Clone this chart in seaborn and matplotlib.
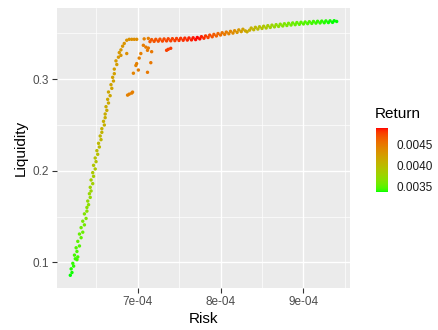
import numpy as np
import matplotlib
matplotlib.use("Agg")
import matplotlib.pyplot as plt
from matplotlib.colors import ListedColormap, Normalize
from matplotlib.cm import ScalarMappable
from matplotlib.ticker import FixedLocator
import seaborn as sns

# ---- data -------------------------------------------------------------
# steep lower branch of the frontier
branch_risk = [6.19e-4, 6.21e-4, 6.20e-4, 6.23e-4, 6.22e-4, 6.27e-4, 6.28e-4, 6.25e-4,
               6.24e-4, 6.27e-4, 6.26e-4, 6.30e-4, 6.28e-4, 6.32e-4, 6.30e-4, 6.34e-4,
               6.32e-4, 6.36e-4, 6.34e-4, 6.38e-4, 6.36e-4, 6.39e-4, 6.39e-4, 6.41e-4,
               6.40e-4, 6.43e-4, 6.42e-4, 6.44e-4, 6.43e-4, 6.46e-4, 6.44e-4, 6.47e-4,
               6.46e-4, 6.49e-4, 6.47e-4, 6.50e-4, 6.49e-4, 6.52e-4, 6.51e-4, 6.54e-4,
               6.53e-4, 6.56e-4, 6.55e-4, 6.57e-4, 6.57e-4, 6.60e-4, 6.59e-4, 6.61e-4,
               6.61e-4, 6.63e-4, 6.62e-4, 6.65e-4, 6.64e-4, 6.67e-4, 6.65e-4, 6.69e-4,
               6.68e-4, 6.71e-4, 6.70e-4, 6.72e-4, 6.72e-4, 6.75e-4, 6.74e-4, 6.77e-4,
               6.78e-4, 6.80e-4, 6.82e-4, 6.84e-4, 6.87e-4, 6.90e-4, 6.93e-4, 6.96e-4,
               6.99e-4]
branch_liq = [0.086, 0.089, 0.093, 0.096, 0.099, 0.103, 0.106, 0.104,
              0.108, 0.112, 0.116, 0.118, 0.123, 0.127, 0.131, 0.133,
              0.138, 0.141, 0.145, 0.148, 0.153, 0.156, 0.160, 0.163,
              0.167, 0.171, 0.175, 0.178, 0.182, 0.186, 0.190, 0.194,
              0.198, 0.202, 0.206, 0.210, 0.214, 0.218, 0.222, 0.226,
              0.230, 0.234, 0.238, 0.242, 0.246, 0.250, 0.254, 0.258,
              0.262, 0.266, 0.270, 0.274, 0.278, 0.282, 0.286, 0.290,
              0.294, 0.298, 0.302, 0.306, 0.311, 0.316, 0.320, 0.324,
              0.329, 0.332, 0.336, 0.339, 0.3425, 0.3435, 0.3435, 0.3435,
              0.3435]
branch_ret = [0.00338, 0.00339, 0.00340, 0.00341, 0.00342, 0.00344, 0.00345, 0.00343,
              0.00345, 0.00346, 0.00348, 0.00349, 0.00351, 0.00352, 0.00354, 0.00355,
              0.00357, 0.00359, 0.00360, 0.00362, 0.00364, 0.00366, 0.00368, 0.00370,
              0.00372, 0.00374, 0.00376, 0.00378, 0.00380, 0.00382, 0.00384, 0.00386,
              0.00388, 0.00390, 0.00392, 0.00394, 0.00396, 0.00398, 0.00400, 0.00401,
              0.00403, 0.00404, 0.00406, 0.00407, 0.00409, 0.00410, 0.00411, 0.00412,
              0.00413, 0.00414, 0.00415, 0.00416, 0.00417, 0.00418, 0.00419, 0.00420,
              0.00421, 0.00422, 0.00423, 0.00424, 0.00425, 0.00426, 0.00427, 0.00428,
              0.00429, 0.00430, 0.00431, 0.00432, 0.00433, 0.00434, 0.00435, 0.00436,
              0.00437]

# scattered portfolios around the knee
cloud_risk = [6.80e-4, 6.87e-4, 7.08e-4, 7.13e-4, 7.07e-4, 7.10e-4, 7.13e-4, 7.12e-4,
              7.17e-4, 7.04e-4, 7.02e-4, 6.99e-4, 6.98e-4, 6.95e-4, 7.01e-4, 7.16e-4,
              7.12e-4, 6.88e-4, 6.90e-4, 6.93e-4, 6.94e-4, 7.35e-4, 7.37e-4, 7.40e-4]
cloud_liq = [0.326, 0.328, 0.3440, 0.3445, 0.337, 0.335, 0.334, 0.3315,
             0.330, 0.328, 0.323, 0.317, 0.315, 0.3065, 0.310, 0.318,
             0.3075, 0.2826, 0.2837, 0.2848, 0.2859, 0.3315, 0.3326, 0.3337]
cloud_ret = [0.00432, 0.00436, 0.00446, 0.00447, 0.00448, 0.00449, 0.00450, 0.00450,
             0.00452, 0.00447, 0.00446, 0.00446, 0.00445, 0.00444, 0.00447, 0.00452,
             0.00451, 0.00446, 0.00446, 0.00447, 0.00447, 0.00478, 0.00479, 0.00480]

# upper, flat part of the frontier
plateau_risk = [7.15e-4, 7.17e-4, 7.20e-4, 7.22e-4, 7.25e-4, 7.27e-4, 7.30e-4, 7.32e-4,
                7.35e-4, 7.37e-4, 7.40e-4, 7.42e-4, 7.45e-4, 7.47e-4, 7.50e-4, 7.52e-4,
                7.55e-4, 7.57e-4, 7.60e-4, 7.62e-4, 7.65e-4, 7.67e-4, 7.70e-4, 7.72e-4,
                7.75e-4, 7.77e-4, 7.80e-4, 7.82e-4, 7.85e-4, 7.87e-4, 7.90e-4, 7.92e-4,
                7.95e-4, 7.97e-4, 8.00e-4, 8.02e-4, 8.05e-4, 8.07e-4, 8.10e-4, 8.12e-4,
                8.15e-4, 8.17e-4, 8.20e-4, 8.22e-4, 8.25e-4, 8.27e-4, 8.30e-4, 8.32e-4,
                8.35e-4, 8.37e-4, 8.40e-4, 8.42e-4, 8.45e-4, 8.47e-4, 8.50e-4, 8.52e-4,
                8.55e-4, 8.57e-4, 8.60e-4, 8.62e-4, 8.65e-4, 8.67e-4, 8.70e-4, 8.72e-4,
                8.75e-4, 8.77e-4, 8.80e-4, 8.82e-4, 8.85e-4, 8.87e-4, 8.90e-4, 8.92e-4,
                8.95e-4, 8.97e-4, 9.00e-4, 9.02e-4, 9.05e-4, 9.07e-4, 9.10e-4, 9.12e-4,
                9.15e-4, 9.17e-4, 9.20e-4, 9.22e-4, 9.25e-4, 9.27e-4, 9.30e-4, 9.32e-4,
                9.35e-4, 9.37e-4, 9.40e-4]
plateau_liq = [0.3410, 0.3432, 0.3413, 0.3435, 0.3415, 0.3437, 0.3416, 0.3439,
               0.3418, 0.3441, 0.3419, 0.3442, 0.3421, 0.3444, 0.3423, 0.3446,
               0.3425, 0.3448, 0.3427, 0.3450, 0.3429, 0.3452, 0.3432, 0.3455,
               0.3440, 0.3464, 0.3447, 0.3472, 0.3455, 0.3481, 0.3463, 0.3489,
               0.3472, 0.3498, 0.3482, 0.3507, 0.3489, 0.3514, 0.3496, 0.3522,
               0.3503, 0.3529, 0.3511, 0.3538, 0.3519, 0.3545, 0.3527, 0.3517,
               0.3535, 0.3558, 0.3540, 0.3566, 0.3547, 0.3572, 0.3554, 0.3578,
               0.3559, 0.3584, 0.3565, 0.3590, 0.3571, 0.3595, 0.3576, 0.3600,
               0.3581, 0.3605, 0.3586, 0.3610, 0.3591, 0.3614, 0.3595, 0.3618,
               0.3599, 0.3621, 0.3603, 0.3624, 0.3606, 0.3627, 0.3609, 0.3630,
               0.3612, 0.3632, 0.3614, 0.3634, 0.3616, 0.3636, 0.3618, 0.3637,
               0.3620, 0.3638, 0.3630]
plateau_ret = [0.00468, 0.00469, 0.00470, 0.00471, 0.00472, 0.00473, 0.00474, 0.00475,
               0.00476, 0.00477, 0.00478, 0.00478, 0.00479, 0.00480, 0.00481, 0.00482,
               0.00483, 0.00484, 0.00485, 0.00486, 0.00487, 0.00488, 0.00489, 0.00490,
               0.00489, 0.00487, 0.00484, 0.00481, 0.00478, 0.00475, 0.00471, 0.00468,
               0.00464, 0.00461, 0.00457, 0.00454, 0.00451, 0.00448, 0.00445, 0.00442,
               0.00439, 0.00436, 0.00432, 0.00429, 0.00425, 0.00422, 0.00418, 0.00415,
               0.00412, 0.00409, 0.00405, 0.00403, 0.00400, 0.00397, 0.00394, 0.00391,
               0.00388, 0.00385, 0.00381, 0.00378, 0.00375, 0.00372, 0.00369, 0.00367,
               0.00365, 0.00363, 0.00361, 0.00359, 0.00357, 0.00356, 0.00354, 0.00353,
               0.00351, 0.00350, 0.00349, 0.00348, 0.00347, 0.00346, 0.00345, 0.00344,
               0.00343, 0.00342, 0.00342, 0.00341, 0.00340, 0.00340, 0.00339, 0.00339,
               0.00338, 0.00338, 0.00338]

x_ticks = [7e-4, 8e-4, 9e-4]
x_tick_labels = ["7e-04", "8e-04", "9e-04"]
y_ticks = [0.1, 0.2, 0.3]
y_tick_labels = ["0.1", "0.2", "0.3"]
ret_ticks = [0.0035, 0.0040, 0.0045]
ret_tick_labels = ["0.0035", "0.0040", "0.0045"]

risk = np.array(branch_risk + cloud_risk + plateau_risk)
liquidity = np.array(branch_liq + cloud_liq + plateau_liq)
ret = np.array(branch_ret + cloud_ret + plateau_ret)


# ---- green -> red gradient interpolated in CIE Lab ----------------------
WHITE = np.array([0.95047, 1.0, 1.08883])
M = np.array([[0.4124564, 0.3575761, 0.1804375],
              [0.2126729, 0.7151522, 0.0721750],
              [0.0193339, 0.1191920, 0.9503041]])


def srgb_to_lab(rgb):
    rgb = np.asarray(rgb, float)
    lin = np.where(rgb <= 0.04045, rgb / 12.92, ((rgb + 0.055) / 1.055) ** 2.4)
    t = (M @ lin) / WHITE
    f = np.where(t > 0.008856, np.cbrt(t), 7.787 * t + 16 / 116)
    return np.array([116 * f[1] - 16, 500 * (f[0] - f[1]), 200 * (f[1] - f[2])])


def lab_to_srgb(lab):
    L, a, b = lab
    fy = (L + 16) / 116
    f = np.array([fy + a / 500, fy, fy - b / 200])
    t = np.where(f ** 3 > 0.008856, f ** 3, (f - 16 / 116) / 7.787) * WHITE
    lin = np.linalg.solve(M, t)
    lin = np.clip(lin, 0, 1)
    rgb = np.where(lin <= 0.0031308, 12.92 * lin, 1.055 * lin ** (1 / 2.4) - 0.055)
    return np.clip(rgb, 0, 1)


low, high = srgb_to_lab([0, 1, 0]), srgb_to_lab([1, 0, 0])
cmap = ListedColormap([lab_to_srgb(low + (high - low) * s) for s in np.linspace(0, 1, 256)])
vmin, vmax = ret.min(), ret.max()

# ---- figure -------------------------------------------------------------
sns.set_theme(style="darkgrid", rc={
    "axes.facecolor": "#EBEBEB",
    "grid.color": "white",
    "axes.edgecolor": "none",
})
plt.rcParams["font.family"] = ["Liberation Sans", "DejaVu Sans"]

fig = plt.figure(figsize=(4.38, 3.30), dpi=100)
ax = fig.add_axes([57 / 438, 42 / 330, 293 / 438, 280 / 330])

sns.scatterplot(x=risk, y=liquidity, hue=ret, palette=cmap, hue_norm=(vmin, vmax),
                s=6, linewidth=0, legend=False, ax=ax)
ax.margins(x=0.05, y=0.05)

ax.set_xticks(x_ticks)
ax.set_xticklabels(x_tick_labels)
ax.set_yticks(y_ticks)
ax.set_yticklabels(y_tick_labels)
ax.xaxis.set_minor_locator(FixedLocator([6.5e-4, 7.5e-4, 8.5e-4, 9.5e-4]))
ax.yaxis.set_minor_locator(FixedLocator([0.15, 0.25, 0.35]))
ax.grid(which="major", color="white", linewidth=1.0)
ax.grid(which="minor", color="white", linewidth=0.5)
ax.tick_params(which="major", length=3.5, width=0.8, color="#333333",
               labelsize=8.5, labelcolor="#4D4D4D", pad=2,
               bottom=True, left=True)
ax.tick_params(which="minor", length=0, bottom=False, left=False)
for s in ax.spines.values():
    s.set_visible(False)

ax.set_xlabel("Risk", fontsize=11, color="black", labelpad=3)
ax.set_ylabel("Liquidity", fontsize=11, color="black", labelpad=4)

# colour bar legend
cax = fig.add_axes([376 / 438, 138 / 330, 12 / 438, 64 / 330])
sm = ScalarMappable(norm=Normalize(vmin, vmax), cmap=cmap)
cb = fig.colorbar(sm, cax=cax)
cb.outline.set_visible(False)
cb.set_ticks(ret_ticks)
cb.set_ticklabels(ret_tick_labels)
cax.tick_params(direction="in", length=2.5, width=0.7, color="white",
                left=True, right=True, labelsize=8.5, labelcolor="#1A1A1A", pad=6)
fig.text(375 / 438, (330 - 118) / 330, "Return", fontsize=11, color="black",
         ha="left", va="baseline")

fig.savefig("out.png", dpi=100, facecolor="white")
